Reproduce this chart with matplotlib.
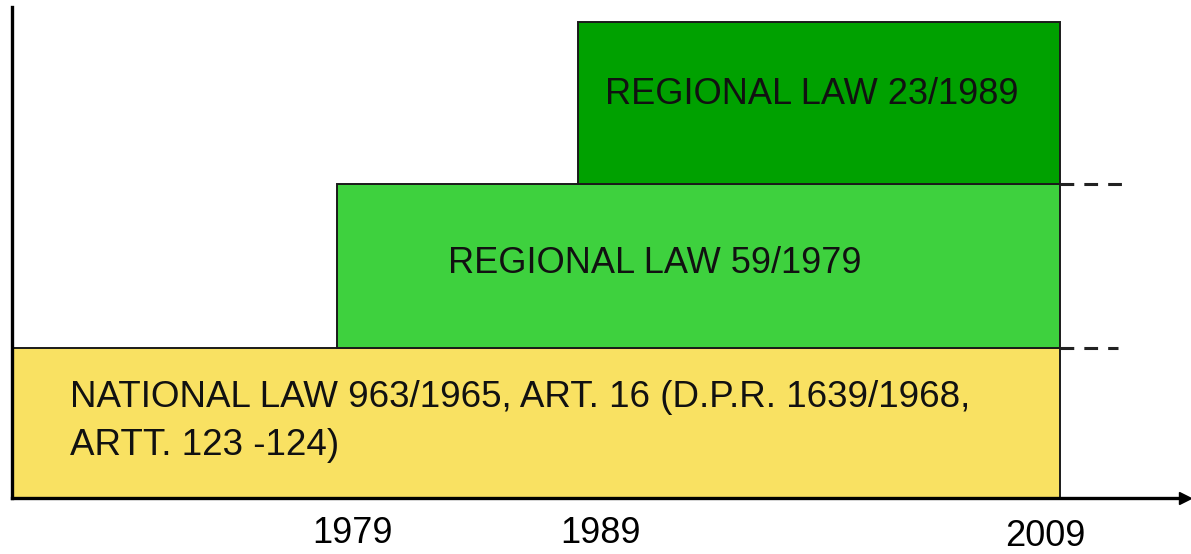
import matplotlib
matplotlib.use("Agg")
import matplotlib.pyplot as plt
from matplotlib.patches import Rectangle
from matplotlib.transforms import ScaledTranslation

# ---- data ----
laws = ["NATIONAL LAW 963/1965, ART. 16 (D.P.R. 1639/1968,\nARTT. 123 -124)",
        "REGIONAL LAW 59/1979",
        "REGIONAL LAW 23/1989"]
start_years = [1965, 1979, 1989]
end_year = 2009
layer_bottoms = [0.0, 1.0, 2.09]
layer_tops = [1.0, 2.09, 3.17]
colors = ["#F9E162", "#3ED13E", "#00A100"]
tick_years = [1979, 1989, 2009]
tick_labels = ["1979", "1989", "2009"]

W, H = 1191, 554
fig = plt.figure(figsize=(W / 100, H / 100), dpi=100)
ax = fig.add_axes([12 / W, (H - 498) / H, (1185 - 12) / W, (498 - 7) / H])
ax.set_xlim(1965.5, 2014.2)
ax.set_ylim(0, 3.273)

for s, b, t, c in zip(start_years, layer_bottoms, layer_tops, colors):
    ax.add_patch(Rectangle((s, b), end_year - s, t - b, facecolor=c,
                           edgecolor="#1a1a1a", linewidth=1.4, zorder=2))

# dashed continuation lines
ax.plot([end_year, 2011.6], [layer_tops[1], layer_tops[1]], color="#222222",
        lw=2.2, dashes=(4.5, 3.3), zorder=3, clip_on=False)
ax.plot([end_year, 2011.4], [layer_tops[0], layer_tops[0]], color="#222222",
        lw=2.2, dashes=(4.5, 3.3), zorder=3, clip_on=False)

font = "Liberation Sans"
ax.text(1998.7, 2.69, laws[2], ha="center", va="center", fontsize=26,
        family=font, color="#111111", zorder=4)
ax.text(1992.2, 1.56, laws[1], ha="center", va="center", fontsize=26,
        family=font, color="#111111", zorder=4)
ax.text(1967.9, 0.51, laws[0], ha="left", va="center", fontsize=26.5,
        family=font, color="#111111", linespacing=1.45, zorder=4)

# axes styling
for side in ["top", "right"]:
    ax.spines[side].set_visible(False)
for side in ["left", "bottom"]:
    ax.spines[side].set_linewidth(2.4)
    ax.spines[side].set_zorder(5)
ax.set_yticks([])
ax.set_xticks(tick_years)
ax.set_xticklabels(tick_labels, fontsize=26, family=font)
ax.tick_params(axis="x", length=0, pad=13)
label_shifts = [(15, 0), (22, 0), (-14, -3)]
for lab, (dx, dy) in zip(ax.get_xticklabels(), label_shifts):
    lab.set_transform(lab.get_transform() + ScaledTranslation(dx / 100, dy / 100, fig.dpi_scale_trans))

# arrow head on x axis
ax.plot([1], [0], marker=">", markersize=9, color="black",
        transform=ax.transAxes, clip_on=False, zorder=6)

fig.savefig("out.png", dpi=100)
